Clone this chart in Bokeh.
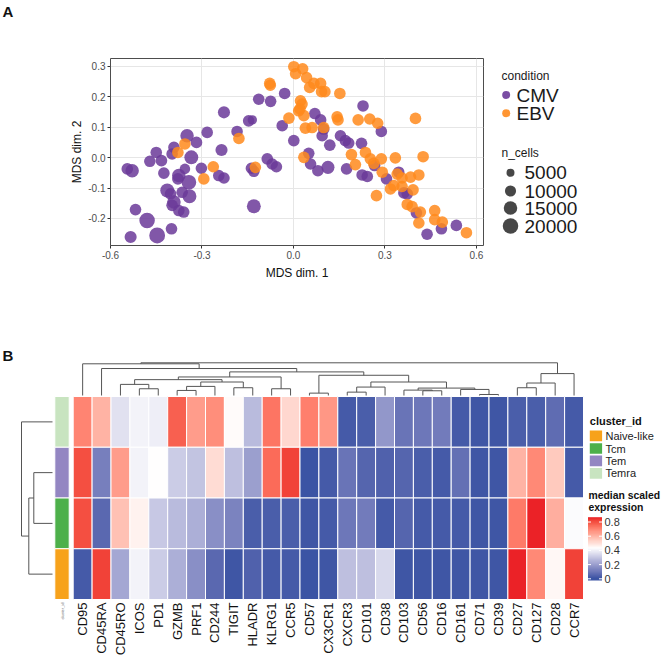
import numpy as np
from bokeh.plotting import figure
from bokeh.models import ColumnDataSource, FixedTicker, NumeralTickFormatter, LinearColorMapper, Range1d
from bokeh.layouts import column, row
from bokeh.transform import transform
from bokeh.core.properties import value
from bokeh.embed import file_html
from bokeh.resources import INLINE

FONT = "Liberation Sans"

# ---------------- Panel A data ----------------
cmv_x = [-0.545, -0.529, -0.471, -0.450, -0.433, -0.425, -0.392, -0.398, -0.349, -0.318,
         -0.335, -0.356, -0.376, -0.379, -0.343, -0.414, -0.403, -0.365, -0.341, -0.392,
         -0.398, -0.376, -0.360, -0.518, -0.480, -0.400, -0.447, -0.534, -0.302, -0.283,
         -0.236, -0.228, -0.245, -0.228, -0.185, -0.147, -0.135, -0.114, -0.075, -0.029,
         -0.037, -0.086, -0.070, -0.056, -0.138, -0.130, -0.130, 0.001, 0.070, 0.089,
         0.099, 0.094, 0.119, 0.154, 0.170, 0.181, 0.223, 0.228, 0.288, 0.050,
         0.056, 0.080, 0.113, 0.174, 0.225, 0.242, 0.266, 0.305, 0.345, 0.362,
         0.373, 0.403, 0.438, 0.485, 0.534]
cmv_y = [-0.037, -0.043, -0.012, 0.017, -0.010, -0.051, 0.034, 0.012, 0.072, 0.050,
         0.001, -0.037, -0.059, -0.070, -0.081, -0.108, -0.119, -0.114, -0.127, -0.146,
         -0.157, -0.174, -0.179, -0.171, -0.207, -0.234, -0.256, -0.261, -0.035, 0.083,
         0.025, 0.149, -0.059, -0.067, 0.086, 0.121, 0.124, 0.192, 0.185, 0.211,
         0.105, -0.004, -0.021, -0.030, -0.035, -0.045, -0.160, 0.056, 0.145, 0.124,
         0.094, 0.072, 0.041, 0.072, 0.056, 0.048, 0.047, 0.170, 0.086, 0.014,
         -0.021, -0.043, -0.032, -0.037, -0.057, -0.062, -0.026, -0.070, -0.048, -0.116,
         -0.119, -0.182, -0.252, -0.234, -0.223]
cmv_n = [11000, 15000, 11000, 11000, 11000, 11000, 11000, 11000, 15000, 11000,
         16000, 9000, 15000, 11000, 18000, 16000, 11000, 11000, 16000, 15000,
         11000, 11000, 11000, 11000, 20000, 11000, 21000, 12000, 11000, 11000,
         12000, 12000, 11000, 11000, 11000, 11000, 7000, 11000, 11000, 11000,
         11000, 11000, 11000, 11000, 11000, 11000, 16000, 11000, 11000, 11000,
         11000, 11000, 11000, 11000, 11000, 11000, 11000, 11000, 11000, 11000,
         11000, 11000, 14000, 11000, 11000, 11000, 11000, 11000, 11000, 11000,
         11000, 11000, 11000, 11000, 11000]

ebv_x = [-0.356, -0.379, -0.263, -0.294, -0.179, -0.125, -0.078, -0.076, -0.015, 0.001,
         0.007, 0.030, 0.043, 0.053, 0.067, 0.089, 0.092, 0.103, 0.152, 0.023,
         0.028, 0.021, 0.034, 0.017, 0.039, 0.061, 0.099, 0.143, 0.146, 0.212,
         0.250, 0.276, 0.400, 0.034, 0.190, 0.203, 0.236, 0.252, 0.263, 0.288,
         0.334, 0.425, 0.291, 0.340, 0.356, 0.384, 0.411, 0.272, 0.318, 0.329,
         0.356, 0.392, 0.373, 0.389, 0.416, 0.411, 0.463, 0.463, 0.488, 0.567]
ebv_y = [0.045, 0.017, -0.030, -0.070, 0.063, -0.032, 0.244, 0.238, 0.130, 0.299,
         0.276, 0.292, 0.263, 0.231, 0.244, 0.244, 0.217, 0.217, 0.211, 0.187,
         0.176, 0.160, 0.138, 0.154, 0.097, 0.099, 0.099, 0.134, 0.124, 0.124,
         0.127, 0.113, 0.129, 0.001, 0.010, -0.023, 0.017, -0.004, -0.019, -0.004,
         -0.001, 0.003, -0.048, -0.054, -0.067, -0.064, -0.057, -0.125, -0.103, -0.092,
         -0.095, -0.106, -0.154, -0.161, -0.179, -0.215, -0.174, -0.204, -0.212, -0.247]
ebv_n = [11000] * 60

condition_labels = ["CMV", "EBV"]
condition_colors = ["#6B3A99", "#FF8A1C"]
size_title = "n_cells"
size_breaks = [5000, 10000, 15000, 20000]
x_ticks = [-0.6, -0.3, 0.0, 0.3, 0.6]
y_ticks = [-0.2, -0.1, 0.0, 0.1, 0.2, 0.3]

# ---------------- Panel B data ----------------
markers = ["CD95", "CD45RA", "CD45RO", "ICOS", "PD1", "GZMB", "PRF1", "CD244", "TIGIT",
           "HLADR", "KLRG1", "CCR5", "CD57", "CX3CR1", "CXCR3", "CD101", "CD38", "CD103",
           "CD56", "CD16", "CD161", "CD71", "CD39", "CD27", "CD127", "CD28", "CCR7"]
clusters_top_to_bottom = ["Temra", "Tem", "Tcm", "Naive-like"]
expr_temra = [0.70, 0.60, 0.36, 0.40, 0.39, 0.77, 0.65, 0.68, 0.44, 0.27, 0.73, 0.52, 0.71, 0.66,
              0.02, 0.03, 0.18, 0.09, 0.10, 0.11, 0.02, 0.01, 0.01, 0.03, 0.03, 0.07, 0.02]
expr_tem = [0.80, 0.12, 0.65, 0.40, 0.43, 0.31, 0.29, 0.51, 0.28, 0.20, 0.75, 0.82, 0.00, 0.02,
            0.09, 0.05, 0.04, 0.05, 0.03, 0.02, 0.08, 0.01, 0.01, 0.60, 0.69, 0.55, 0.02]
expr_tcm = [0.80, 0.06, 0.57, 0.46, 0.30, 0.27, 0.24, 0.16, 0.13, 0.03, 0.03, 0.03, 0.01, 0.02,
            0.10, 0.11, 0.02, 0.05, 0.02, 0.02, 0.02, 0.01, 0.01, 0.72, 0.86, 0.61, 0.42]
expr_naive = [0.02, 0.82, 0.22, 0.40, 0.31, 0.24, 0.16, 0.06, 0.01, 0.04, 0.02, 0.02, 0.00, 0.01,
              0.28, 0.28, 0.34, 0.01, 0.01, 0.01, 0.01, 0.01, 0.01, 0.86, 0.69, 0.45, 0.82]
cluster_legend_order = ["Naive-like", "Tcm", "Tem", "Temra"]
cluster_colors = {"Naive-like": "#F7A21B", "Tcm": "#4DB04A", "Tem": "#9386C2", "Temra": "#C8E4C0"}
colorbar_ticks = [0.0, 0.2, 0.4, 0.6, 0.8]
colorbar_tick_labels = ["0", "0.2", "0.4", "0.6", "0.8"]

# column dendrogram merges: (child a, child b, height)
col_merges = [
    ("CD57", "CX3CR1", 7), ("CXCR3", "CD101", 10), ("m1", "CD38", 25), ("CD71", "CD39", 3),
    ("CD161", "m3", 18), ("CD56", "CD16", 14), ("CD103", "m5", 16), ("m6", "m4", 22),
    ("m2", "m7", 40), ("m0", "m8", 60), ("ICOS", "PD1", 20), ("CD45RO", "m10", 33),
    ("GZMB", "PRF1", 15), ("m12", "CD244", 27), ("TIGIT", "HLADR", 23), ("m13", "m14", 40),
    ("m11", "m15", 47), ("KLRG1", "CCR5", 20), ("m16", "m17", 55), ("m18", "m9", 70),
    ("CD45RA", "m19", 80), ("CD95", "m20", 94), ("CD27", "CD127", 23), ("m22", "CD28", 37),
    ("m23", "CCR7", 65), ("m21", "m24", 97),
]
# row dendrogram merges
row_merges = [("Tem", "Tcm", 1.87), ("m0", "Naive-like", 2.37), ("Temra", "m1", 3.10)]

# ---------------- helpers ----------------
def n_to_px(n):
    return 0.5 + 0.106 * np.sqrt(np.asarray(n, float))

M = np.array([[0.4124, 0.3576, 0.1805], [0.2126, 0.7152, 0.0722], [0.0193, 0.1192, 0.9505]])
Minv = np.linalg.inv(M)
WP = M @ np.ones(3)

def _lin(c):
    c = c / 255.0
    return np.where(c <= 0.04045, c / 12.92, ((c + 0.055) / 1.055) ** 2.4)

def _delin(c):
    c = np.clip(c, 0, 1)
    return np.where(c <= 0.0031308, 12.92 * c, 1.055 * c ** (1 / 2.4) - 0.055) * 255

def _f(t):
    d = 6 / 29
    return np.where(t > d ** 3, np.cbrt(t), t / (3 * d * d) + 4 / 29)

def _finv(t):
    d = 6 / 29
    return np.where(t > d, t ** 3, 3 * d * d * (t - 4 / 29))

def hex_to_lab(h):
    rgb = np.array([int(h[i:i + 2], 16) for i in (1, 3, 5)], float)
    xyz = (M @ _lin(rgb)) / WP
    fx, fy, fz = _f(xyz)
    return np.array([116 * fy - 16, 500 * (fx - fy), 200 * (fy - fz)])

def lab_to_hex(lab):
    L, a, b = lab
    fy = (L + 16) / 116
    fx = fy + a / 500
    fz = fy - b / 200
    xyz = np.array([_finv(fx), _finv(fy), _finv(fz)]) * WP
    rgb = np.clip(_delin(Minv @ xyz), 0, 255)
    return "#%02x%02x%02x" % tuple(int(round(float(v))) for v in rgb)

lab_b, lab_w, lab_r = hex_to_lab("#3B54A4"), hex_to_lab("#FFFFFF"), hex_to_lab("#EB2227")
palette = []
for t in np.linspace(0, 1, 256):
    if t <= 0.5:
        s = t / 0.5
        palette.append(lab_to_hex(lab_b + (lab_w - lab_b) * s))
    else:
        s = (t - 0.5) / 0.5
        palette.append(lab_to_hex(lab_w + (lab_r - lab_w) * s))
mapper = LinearColorMapper(palette=palette, low=0.0, high=0.86)

def bare(fig):
    fig.grid.visible = False
    fig.outline_line_color = None
    return fig

# ---------------- Panel letter strip ----------------
TOP_H = 20
pT = bare(figure(width=664, height=TOP_H, x_range=Range1d(0, 664), y_range=Range1d(TOP_H, 0),
                 output_backend="svg", toolbar_location=None, x_axis_type=None, y_axis_type=None,
                 min_border=0))
pT.text(x=[2], y=[11], text=["A"], text_font=value(FONT), text_font_style="bold",
        text_font_size="15px", text_baseline="middle", text_color="#111111")

# ---------------- Panel A: scatter ----------------
ROW_H_A = 273
xs = cmv_x + ebv_x
ys = cmv_y + ebv_y
ns = cmv_n + ebv_n
cols = [condition_colors[0]] * len(cmv_x) + [condition_colors[1]] * len(ebv_x)
srcA = ColumnDataSource(dict(x=xs, y=ys, sz=list(n_to_px(ns)), color=cols))

pA = figure(width=500, height=ROW_H_A, x_range=Range1d(-0.6, 0.623), y_range=Range1d(-0.289, 0.326),
            output_backend="svg", toolbar_location=None,
            min_border_left=110, min_border_right=17, min_border_top=58 - TOP_H, min_border_bottom=48)
pA.scatter("x", "y", size="sz", fill_color="color", line_color=None, fill_alpha=0.85, source=srcA)
pA.xaxis.ticker = FixedTicker(ticks=x_ticks)
pA.yaxis.ticker = FixedTicker(ticks=y_ticks)
pA.xaxis.formatter = NumeralTickFormatter(format="0.0")
pA.yaxis.formatter = NumeralTickFormatter(format="0.0")
pA.xaxis.axis_label = "MDS dim. 1"
pA.yaxis.axis_label = "MDS dim. 2"
for ax in (pA.xaxis, pA.yaxis):
    ax.axis_line_color = None
    ax.major_tick_line_color = "#333333"
    ax.major_tick_out = 3
    ax.major_tick_in = 0
    ax.minor_tick_line_color = None
    ax.major_label_standoff = 2
    ax.major_label_text_font = FONT
    ax.major_label_text_font_size = "10px"
    ax.major_label_text_color = "#4D4D4D"
    ax.axis_label_text_font = FONT
    ax.axis_label_text_font_size = "12px"
    ax.axis_label_text_font_style = "normal"
    ax.axis_label_text_color = "#111111"
    ax.axis_label_standoff = 4
pA.yaxis.axis_label_standoff = 1
pA.grid.grid_line_color = "#E6E6E6"
pA.outline_line_color = "#4D4D4D"
pA.outline_line_width = 1

# legend figure for panel A (page-pixel coordinates; frame spans page y 58..245)
pL = bare(figure(width=164, height=ROW_H_A, x_range=Range1d(500, 664), y_range=Range1d(245, 58),
                 output_backend="svg", toolbar_location=None, x_axis_type=None, y_axis_type=None,
                 min_border_left=0, min_border_right=0, min_border_top=58 - TOP_H,
                 min_border_bottom=48))
pL.text(x=[501, 501], y=[75, 152], text=["condition", size_title], text_font=value(FONT),
        text_font_size="12px", text_baseline="middle", text_color="#1A1A1A")
pL.scatter(x=[505.7, 505.7], y=[94.5, 112.7], size=8, fill_color=condition_colors,
           line_color=None, fill_alpha=0.9)
pL.text(x=[516, 516], y=[95, 113], text=condition_labels, text_font=value(FONT),
        text_font_size="19px", text_baseline="middle", text_color="#1A1A1A")
leg_y = [172.3, 190.5, 207.5, 225.5]
pL.scatter(x=[510] * 4, y=leg_y, size=list(n_to_px(size_breaks)), fill_color="#333333",
           line_color=None, fill_alpha=0.9)
pL.text(x=[524] * 4, y=leg_y, text=[str(b) for b in size_breaks], text_font=value(FONT),
        text_font_size="19px", text_baseline="middle", text_color="#1A1A1A")

# ---------------- Panel B: heatmap ----------------
HM_LEFT, COL_W, HM_BOTTOM, ROW_H = 72.7, 18.9, 599.0, 50.75
FIG_Y0, FIG_W, FIG_H = TOP_H + ROW_H_A, 664, 656 - TOP_H - ROW_H_A

def px_x(p):
    return (p - HM_LEFT) / COL_W

def px_y(p):
    return (HM_BOTTOM - p) / ROW_H

pB = bare(figure(width=FIG_W, height=FIG_H, x_range=Range1d(px_x(0), px_x(FIG_W)),
                 y_range=Range1d(px_y(FIG_Y0 + FIG_H), px_y(FIG_Y0)),
                 output_backend="svg", toolbar_location=None, x_axis_type=None, y_axis_type=None,
                 min_border=0))

expr_rows = {"Temra": expr_temra, "Tem": expr_tem, "Tcm": expr_tcm, "Naive-like": expr_naive}
nrow = len(clusters_top_to_bottom)
row_center = {c: nrow - 1 - i + 0.5 for i, c in enumerate(clusters_top_to_bottom)}
hx, hy, hv = [], [], []
for c in clusters_top_to_bottom:
    for j, v in enumerate(expr_rows[c]):
        hx.append(j + 0.5)
        hy.append(row_center[c])
        hv.append(v)
pB.rect(x="x", y="y", width=1, height=1, source=ColumnDataSource(dict(x=hx, y=hy, v=hv)),
        fill_color=transform("v", mapper), line_color="white", line_width=1)

# annotation strip
ax0, ax1 = px_x(54.3), px_x(68.7)
pB.rect(x=[(ax0 + ax1) / 2] * nrow, y=[row_center[c] for c in clusters_top_to_bottom],
        width=ax1 - ax0, height=1, fill_color=[cluster_colors[c] for c in clusters_top_to_bottom],
        line_color="white", line_width=1)
pB.text(x=[(ax0 + ax1) / 2], y=[px_y(602)], text=["cluster_id"], angle=np.pi / 2,
        text_align="right", text_baseline="middle", text_font=value(FONT),
        text_font_size="4px", text_color="#666666")

# column labels
pB.text(x=[j + 0.5 for j in range(len(markers))], y=[px_y(602)] * len(markers), text=markers,
        angle=np.pi / 2, text_align="right", text_baseline="middle", text_font=value(FONT),
        text_font_size="13px", text_color="#111111")

def dendro_segments(leaf_pos, merges):
    pos = dict(leaf_pos)
    hgt = {k: 0.0 for k in leaf_pos}
    segs = []
    for i, (a, b, h) in enumerate(merges):
        pa, pb_ = pos[a], pos[b]
        segs.append((pa, hgt[a], pa, h))
        segs.append((pb_, hgt[b], pb_, h))
        segs.append((pa, h, pb_, h))
        pos["m%d" % i] = (pa + pb_) / 2
        hgt["m%d" % i] = h
    return segs

# column dendrogram (top)
cbase, ctop = px_y(395), px_y(362.3)
hmax_c = max(m[2] for m in col_merges)
segs = dendro_segments({m: j + 0.5 for j, m in enumerate(markers)}, col_merges)
cy = lambda h: cbase + (ctop - cbase) * h / hmax_c
pB.segment(x0=[s[0] for s in segs], y0=[cy(s[1]) for s in segs],
           x1=[s[2] for s in segs], y1=[cy(s[3]) for s in segs],
           line_color="#555555", line_width=1)

# row dendrogram (left)
rbase, rtop = px_x(52), px_x(21)
hmax_r = max(m[2] for m in row_merges)
segs = dendro_segments(row_center, row_merges)
rx = lambda h: rbase + (rtop - rbase) * h / hmax_r
pB.segment(x0=[rx(s[1]) for s in segs], y0=[s[0] for s in segs],
           x1=[rx(s[3]) for s in segs], y1=[s[2] for s in segs],
           line_color="#555555", line_width=1)

# panel letter
pB.text(x=[px_x(2)], y=[px_y(355)], text=["B"], text_font=value(FONT), text_font_style="bold",
        text_font_size="15px", text_baseline="middle", text_color="#111111")

# cluster legend
sw0, sw1 = px_x(589.3), px_x(601.6)
leg_cy = [435.3, 448.0, 460.3, 472.8]
pB.text(x=[sw0], y=[px_y(420)], text=["cluster_id"], text_font=value(FONT),
        text_font_style="bold", text_font_size="11px", text_baseline="middle", text_color="#111111")
pB.rect(x=[(sw0 + sw1) / 2] * 4, y=[px_y(v) for v in leg_cy], width=sw1 - sw0,
        height=10.7 / ROW_H, fill_color=[cluster_colors[c] for c in cluster_legend_order],
        line_color=None)
pB.text(x=[px_x(605)] * 4, y=[px_y(v) for v in leg_cy], text=cluster_legend_order,
        text_font=value(FONT), text_font_size="11px", text_baseline="middle", text_color="#222222")

# color bar
pB.text(x=[px_x(588), px_x(588)], y=[px_y(495), px_y(507)], text=["median scaled", "expression"],
        text_font=value(FONT), text_font_style="bold", text_font_size="10.4px",
        text_baseline="middle", text_color="#111111")
cb_lo, cb_hi = -0.024, 0.868
cb_top, cb_bot = 516.7, 580.0
cbx0, cbx1 = px_x(587.5), px_x(601.5)
grad = np.linspace(cb_lo, cb_hi, 120).reshape(-1, 1)
pB.image(image=[grad], x=cbx0, y=px_y(cb_bot), dw=cbx1 - cbx0, dh=px_y(cb_top) - px_y(cb_bot),
         color_mapper=mapper)
tick_py = [cb_bot - (t - cb_lo) / (cb_hi - cb_lo) * (cb_bot - cb_top) for t in colorbar_ticks]
tl = 3.0 / COL_W
pB.segment(x0=[cbx0] * 5 + [cbx1 - tl] * 5, y0=[px_y(v) for v in tick_py] * 2,
           x1=[cbx0 + tl] * 5 + [cbx1] * 5, y1=[px_y(v) for v in tick_py] * 2,
           line_color="white", line_width=1)
pB.text(x=[px_x(604)] * 5, y=[px_y(v) for v in tick_py], text=colorbar_tick_labels,
        text_font=value(FONT), text_font_size="11px", text_baseline="middle", text_color="#333333")

layout = column(pT, row(pA, pL), pB)
open("out.html", "w").write(file_html(layout, INLINE))
